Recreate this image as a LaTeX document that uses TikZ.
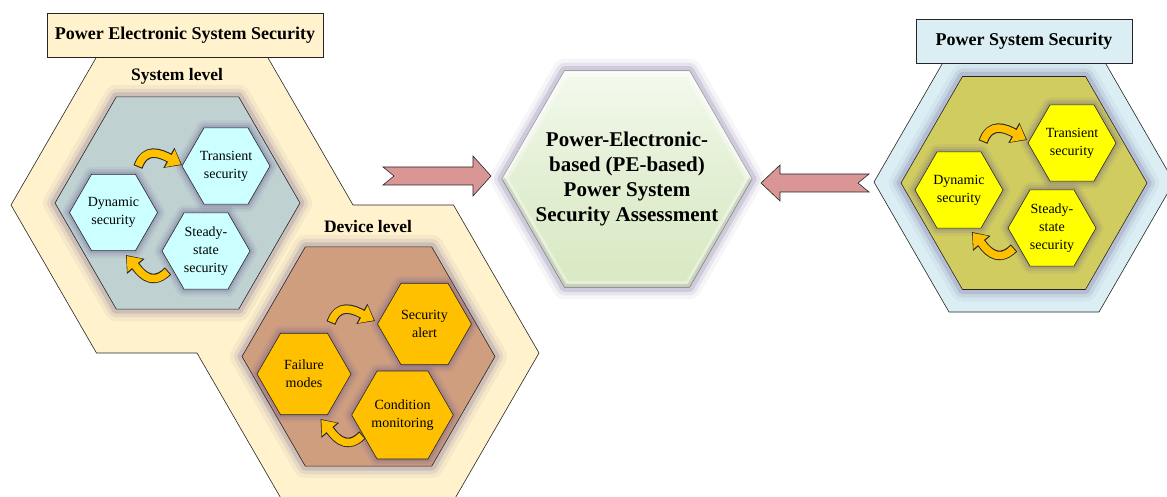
\documentclass[tikz,border=0pt]{standalone}
\usepackage{fontspec}
\setmainfont{Liberation Serif}
\usetikzlibrary{shapes.geometric,arrows.meta}
\definecolor{beige}{HTML}{FFF2CC}
\definecolor{lblue}{HTML}{DAEEF3}
\definecolor{sysin}{HTML}{BFD1D1}
\definecolor{cyanh}{HTML}{CCFFFF}
\definecolor{devin}{HTML}{CF9E7F}
\definecolor{orangeh}{HTML}{FFC000}
\definecolor{olive}{HTML}{D0CC60}
\definecolor{yellowh}{HTML}{FFFF00}
\definecolor{pinka}{HTML}{D99694}
\definecolor{glowc}{HTML}{65568F}
\definecolor{edge}{HTML}{262626}
\definecolor{pet}{HTML}{F4F9EE}
\definecolor{pem}{HTML}{E2EFD3}
\definecolor{peb}{HTML}{D8E9C2}
\tikzset{
  hexa/.style={regular polygon, regular polygon sides=6, minimum size=#1,
    inner sep=0pt, draw=edge, line width=0.6pt, align=center},
  bigglow/.style={
    preaction={draw=glowc, line width=24pt, draw opacity=0.06, line join=round},
    preaction={draw=glowc, line width=16pt, draw opacity=0.11, line join=round},
    preaction={draw=glowc, line width=9pt, draw opacity=0.18, line join=round}},
  smallglow/.style={
    preaction={draw=glowc, line width=15pt, draw opacity=0.08, line join=round},
    preaction={draw=glowc, line width=10pt, draw opacity=0.13, line join=round},
    preaction={draw=glowc, line width=5pt, draw opacity=0.2, line join=round}},
  small/.style={font=\fontsize{14}{18}\selectfont},
  lvl/.style={font=\fontsize{17.5}{21}\selectfont\bfseries},
  titlebox/.style={draw=edge, line width=0.6pt, inner sep=0pt,
    font=\fontsize{18}{22}\selectfont\bfseries},
  outer/.style={draw=edge, line width=0.6pt, line join=miter},
  blockarrow/.style={fill=pinka, draw=edge, line width=0.6pt, line join=miter},
  curlout/.style={line width=9.5pt, draw=edge, -{Triangle[width=22pt,length=15pt]}},
  curlin/.style={line width=7.5pt, draw=orangeh, -{Triangle[width=19pt,length=12.5pt]},
    shorten >=1.3pt, shorten <=1pt}
}
\newcommand{\curlytop}[1]{%
  \begin{scope}[shift={#1}]
    \draw[curlout] (0,0) .. controls (7,-20) and (22,-14) .. (44,-2);
    \draw[curlin]  (0,0) .. controls (7,-20) and (22,-14) .. (44,-2);
  \end{scope}}
\newcommand{\curlybot}[1]{%
  \begin{scope}[shift={#1}]
    \draw[curlout] (0,0) .. controls (-18,18) and (-30,-2) .. (-42,-16);
    \draw[curlin]  (0,0) .. controls (-18,18) and (-30,-2) .. (-42,-16);
  \end{scope}}
\begin{document}
\begin{tikzpicture}[x=1pt,y=-1pt]
\useasboundingbox (0,0) rectangle (1167,497);
\clip (0,0) rectangle (1167,497);

% ---------- left group outer shape ----------
\path[outer, fill=beige] (96.5,57) -- (267.5,57) -- (353,205) -- (453.5,205)
  -- (539,353) -- (453.5,501) -- (282.5,501) -- (197,353) -- (96.5,353)
  -- (11,205) -- cycle;
\node[titlebox, fill=beige, minimum width=276pt, minimum height=44pt]
  (pestitle) at (185,35) {Power Electronic System Security};

% ---------- right group outer shape ----------
\path[outer, fill=lblue] (874,182) -- (949,52) -- (1099,52) -- (1174,182)
  -- (1099,312) -- (949,312) -- cycle;
\node[titlebox, fill=lblue, minimum width=216pt, minimum height=44pt]
  (pstitle) at (1024,41) {Power System Security};

% ---------- inner hexagons ----------
\node[hexa=245pt, bigglow, fill=sysin] (syslevel) at (177.5,203) {};
\node[hexa=253pt, bigglow, fill=devin] (devlevel) at (368.5,356.5) {};
\node[hexa=246pt, bigglow, fill=olive] (psinner) at (1024,183) {};

\node[lvl] (syslab) at (177,76) {System level};
\node[lvl] (devlab) at (368,227) {Device level};

% ---------- system level ----------
\node[hexa=88pt, smallglow, fill=cyanh, small] (strans) at (226,166) {Transient\\security};
\node[hexa=88pt, smallglow, fill=cyanh, small] (sdyn) at (113.5,212.5) {Dynamic\\security};
\node[hexa=88pt, smallglow, fill=cyanh, small] (ssteady) at (206,251) {Steady-\\state\\security};
\curlytop{(138,167)}
\curlybot{(168,271)}

% ---------- device level ----------
\node[hexa=94pt, smallglow, fill=orangeh, small] (dalert) at (424.5,324) {Security\\alert};
\node[hexa=94pt, smallglow, fill=orangeh, small] (dfail) at (304,374) {Failure\\modes};
\node[hexa=94pt, smallglow, fill=orangeh, small] (dcond) at (402.5,415) {Condition\\monitoring};
\curlytop{(331,323)}
\curlybot{(362.5,435)}

% ---------- power system level ----------
\node[hexa=88pt, smallglow, fill=yellowh, small] (ptrans) at (1072,143) {Transient\\security};
\node[hexa=88pt, smallglow, fill=yellowh, small] (pdyn) at (959,190) {Dynamic\\security};
\node[hexa=88pt, smallglow, fill=yellowh, small] (psteady) at (1052,228) {Steady-\\state\\security};
\curlytop{(983,142)}
\curlybot{(1014,248)}

% ---------- center ----------
\node[hexa=250pt, bigglow, draw=black!55, top color=pet, bottom color=peb, middle color=pem]
  (pe) at (627,179) {};
\begin{scope}
  \clip (502,179) -- (564.5,71) -- (689.5,71) -- (752,179) -- (689.5,287) -- (564.5,287) -- cycle;
  \draw[white, opacity=0.35, line width=12pt, line join=round]
    (502,179) -- (564.5,71) -- (689.5,71) -- (752,179) -- (689.5,287) -- (564.5,287) -- cycle;
  \draw[white, opacity=0.5, line width=5pt, line join=round]
    (502,179) -- (564.5,71) -- (689.5,71) -- (752,179);
  \draw[black, opacity=0.12, line width=6pt, line join=round]
    (752,179) -- (689.5,287) -- (564.5,287) -- (502,179);
\end{scope}
\node[font=\fontsize{21}{25}\selectfont\bfseries, align=center] (petext) at (pe.center)
  {Power-Electronic-\\based (PE-based)\\Power System\\Security Assessment};

% ---------- block arrows ----------
\path[blockarrow] (383,167) -- (473,167) -- (473,156) -- (491,176) -- (473,196)
  -- (473,185) -- (383,185) -- (394,176) -- cycle;
\path[blockarrow] (761,183) -- (780,165) -- (780,174) -- (869,174) -- (858,183)
  -- (869,192) -- (780,192) -- (780,201) -- cycle;
\end{tikzpicture}
\end{document}
